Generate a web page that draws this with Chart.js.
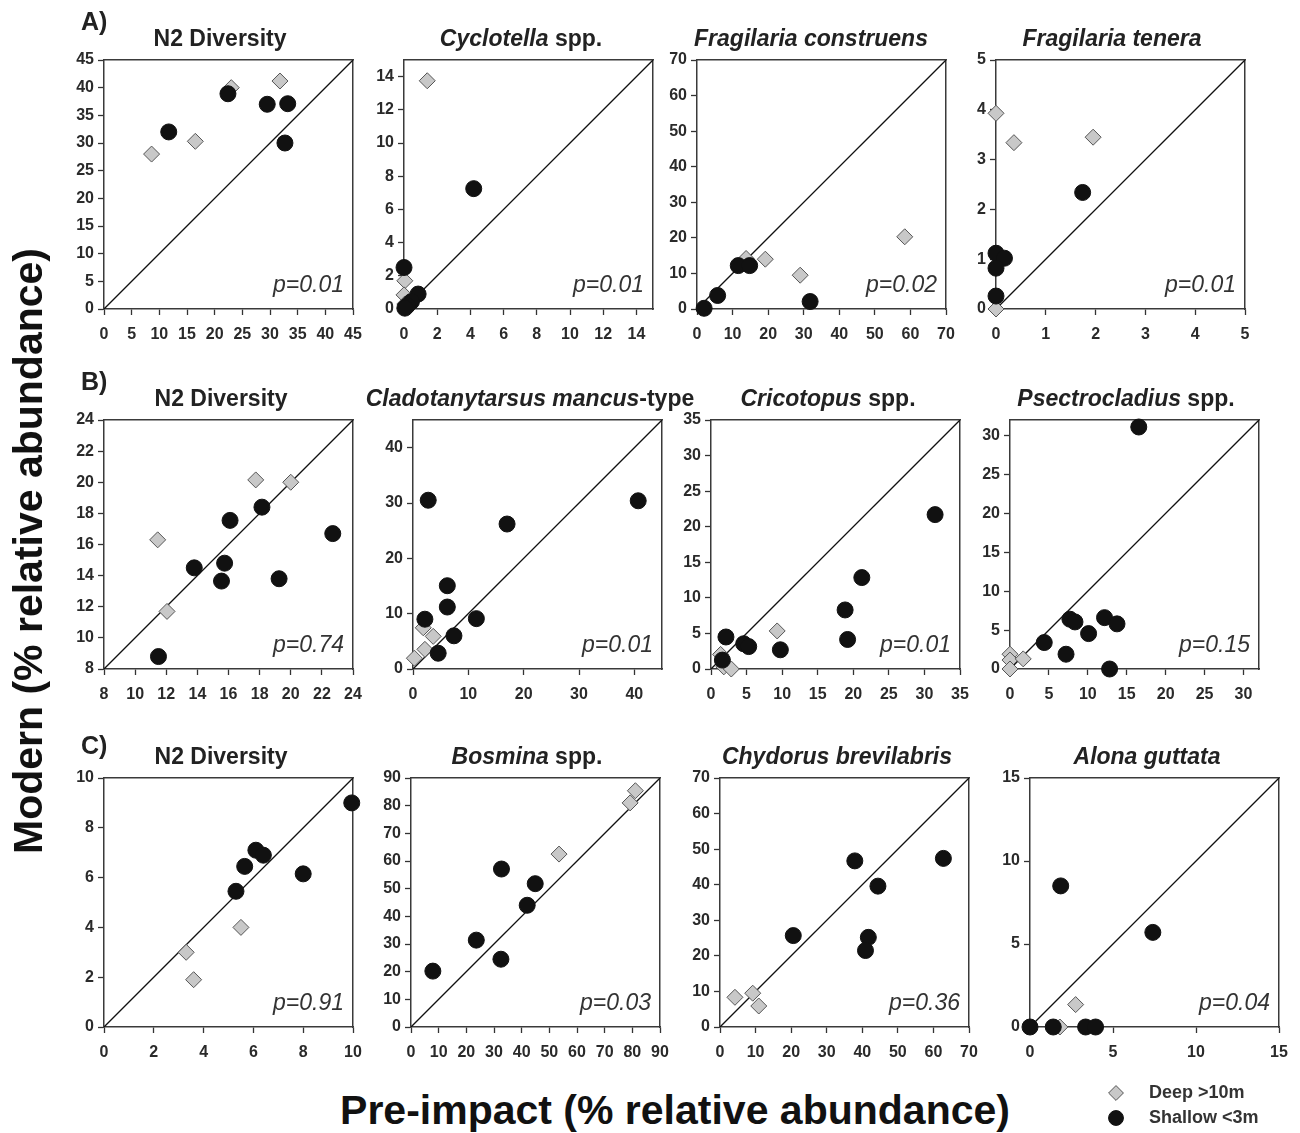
<!DOCTYPE html>
<html>
<head>
<meta charset="utf-8">
<script src="https://cdn.jsdelivr.net/npm/chart.js@4.4.1/dist/chart.umd.min.js"></script>
<style>
  body { margin: 0; background: #fff; width: 1300px; height: 1133px; position: relative; overflow: hidden;
         font-family: "Liberation Sans", Arial, Helvetica, sans-serif; color: #222; }
  canvas { position: absolute; }
  .ttl { position: absolute; font-weight: bold; font-size: 23px; line-height: 24px; white-space: nowrap;
         transform: translateX(-50%); color: #222; }
  .pv { position: absolute; font-style: italic; font-size: 23px; line-height: 22px; white-space: nowrap;
        color: #333; transform: translateX(-100%); }
  .lett { position: absolute; font-weight: bold; font-size: 25px; line-height: 26px; color: #222; }
  .big { position: absolute; font-weight: bold; font-size: 41px; line-height: 44px; white-space: nowrap; color: #111; }
</style>
</head>
<body>
<script>
// ---- panel text ----
const titleItalic = ['', 'Cyclotella', 'Fragilaria construens', 'Fragilaria tenera',
                     '', 'Cladotanytarsus mancus', 'Cricotopus', 'Psectrocladius',
                     '', 'Bosmina', 'Chydorus brevilabris', 'Alona guttata'];
const titlePlain = ['N2 Diversity', ' spp.', '', '',
                    'N2 Diversity', '-type', ' spp.', ' spp.',
                    'N2 Diversity', ' spp.', '', ''];
const pValues = ['p=0.01', 'p=0.01', 'p=0.02', 'p=0.01',
                 'p=0.74', 'p=0.01', 'p=0.01', 'p=0.15',
                 'p=0.91', 'p=0.03', 'p=0.36', 'p=0.04'];
const rowLetters = ['A)', 'B)', 'C)'];

// ---- axes (same range on x and y) ----
const axisMin = [0, 0, 0, 0, 8, 0, 0, 0, 0, 0, 0, 0];
const axisMax = [45, 15, 70, 5, 24, 45, 35, 32, 10, 90, 70, 15];
const tickStep = [5, 2, 10, 1, 2, 10, 5, 5, 2, 10, 10, 5];

// ---- data: [pre-impact, modern] ----
const deepA1 = [[8.6, 28], [16.5, 30.3], [23, 40], [31.8, 41.2]];
const shallowA1 = [[11.7, 32], [22.4, 38.9], [29.5, 37], [33.2, 37.1], [32.7, 30]];
const deepA2 = [[1.4, 13.75], [0.05, 1.7], [0, 0.85], [0.05, 0.3]];
const shallowA2 = [[4.2, 7.25], [0, 2.5], [0.85, 0.9], [0.45, 0.45], [0.2, 0.2], [0.05, 0.05]];
const deepA3 = [[13.8, 14.2], [19.2, 14], [29, 9.5], [58.4, 20.3]];
const shallowA3 = [[2, 0.2], [5.8, 3.8], [11.6, 12.2], [14.8, 12.2], [31.8, 2.1]];
const deepA4 = [[0, 3.93], [0.36, 3.34], [1.95, 3.45], [0, 0]];
const shallowA4 = [[1.74, 2.34], [0, 1.12], [0.17, 1.02], [0, 0.82], [0, 0.26]];

const deepB1 = [[11.45, 16.3], [17.75, 20.15], [20, 20], [12.05, 11.7]];
const shallowB1 = [[11.5, 8.8], [13.8, 14.5], [15.55, 13.65], [15.75, 14.8], [16.1, 17.55], [18.15, 18.4], [19.25, 13.8], [22.7, 16.7]];
const deepB2 = [[1.85, 7.45], [3.65, 5.9], [2.15, 3.55], [0.25, 1.95]];
const shallowB2 = [[2.75, 30.5], [40.7, 30.4], [17, 26.2], [6.2, 15.05], [6.2, 11.2], [2.15, 9], [11.45, 9.1], [7.4, 6], [4.55, 2.85]];
const deepB3 = [[9.3, 5.35], [1.35, 2.05], [1.8, 0.3], [2.85, 0]];
const shallowB3 = [[31.5, 21.7], [21.2, 12.85], [18.85, 8.3], [19.2, 4.15], [2.1, 4.5], [4.6, 3.55], [5.3, 3.15], [9.75, 2.7], [1.6, 1.25]];
const deepB4 = [[0, 1.9], [0, 1.15], [1.7, 1.3], [0, 0]];
const shallowB4 = [[16.55, 31.1], [7.7, 6.4], [8.35, 6.05], [12.15, 6.6], [13.75, 5.8], [10.1, 4.55], [4.4, 3.4], [7.2, 1.9], [12.8, 0]];

const deepC1 = [[5.5, 4], [3.3, 3], [3.6, 1.9]];
const shallowC1 = [[9.95, 9], [6.1, 7.1], [6.4, 6.9], [5.65, 6.45], [5.3, 5.45], [8, 6.15]];
const deepC2 = [[53.5, 62.5], [79.2, 81], [81.1, 85.4]];
const shallowC2 = [[7.9, 20.2], [23.6, 31.4], [32.5, 24.5], [32.7, 57.1], [42, 44], [44.9, 51.8]];
const deepC3 = [[4.2, 8.35], [9.2, 9.5], [10.9, 5.9]];
const shallowC3 = [[37.9, 46.7], [62.8, 47.4], [44.4, 39.6], [20.6, 25.7], [41.7, 25.2], [40.9, 21.5]];
const deepC4 = [[2.75, 1.35], [1.8, 0]];
const shallowC4 = [[1.85, 8.5], [7.4, 5.7], [0, 0], [1.4, 0], [3.35, 0], [3.95, 0]];

const deepSets = [deepA1, deepA2, deepA3, deepA4, deepB1, deepB2, deepB3, deepB4, deepC1, deepC2, deepC3, deepC4];
const shallowSets = [shallowA1, shallowA2, shallowA3, shallowA4, shallowB1, shallowB2, shallowB3, shallowB4, shallowC1, shallowC2, shallowC3, shallowC4];
const legendLabels = ['Deep >10m', 'Shallow <3m'];

// ---- page layout (pixels) ----
const plotLeft = [104, 404, 697, 996, 104, 413, 711, 1010, 104, 411, 720, 1030];
const rowTop = [60, 420, 778];
const titleCenter = [220, 521, 811, 1112, 221, 530, 828, 1126, 221, 527, 837, 1147];
const PW = 249, PH = 249;
const PADL = 60, PADT = 14, PADR = 22, PADB = 44;

const FONT = '"Liberation Sans", Arial, Helvetica, sans-serif';
Chart.defaults.font.family = FONT;

const toPts = arr => arr.map(p => ({x: p[0], y: p[1]}));

function addDiv(cls, html, left, top) {
    const d = document.createElement('div');
    d.className = cls;
    d.innerHTML = html;
    d.style.left = left + 'px';
    d.style.top = top + 'px';
    document.body.appendChild(d);
    return d;
}

function makePanel(i) {
    const left = plotLeft[i];
    const top = rowTop[Math.floor(i / 4)];
    const lo = axisMin[i], hi = axisMax[i];

    const cv = document.createElement('canvas');
    cv.width = PW + PADL + PADR;
    cv.height = PH + PADT + PADB;
    cv.style.left = (left - PADL) + 'px';
    cv.style.top = (top - PADT) + 'px';
    document.body.appendChild(cv);

    const tickFont = {size: 16, weight: 'bold'};
    const mainAxis = (extra) => Object.assign({
        type: 'linear', min: lo, max: hi,
        ticks: {stepSize: tickStep[i], includeBounds: false, autoSkip: false, maxRotation: 0,
                font: tickFont, color: '#2a2a2a'},
        grid: {drawOnChartArea: false, drawTicks: true, tickLength: 6, tickWidth: 1.3, tickColor: '#333'},
        border: {display: true, color: '#3a3a3a', width: 1.5}
    }, extra);
    const frameAxis = (pos) => ({
        type: 'linear', position: pos, min: lo, max: hi, display: true,
        ticks: {display: false}, grid: {display: false},
        border: {display: true, color: '#3a3a3a', width: 1.5},
        afterFit(s) { if (pos === 'top') s.height = 0; else s.width = 0; }
    });

    const xs = mainAxis({position: 'bottom', afterFit(s) { s.height = PADB; }});
    xs.ticks.padding = 10;
    const ys = mainAxis({position: 'left', afterFit(s) { s.width = PADL; }});
    ys.ticks.padding = 4;

    new Chart(cv, {
        type: 'scatter',
        data: {
            datasets: [
                {
                    label: legendLabels[1],
                    data: toPts(shallowSets[i]),
                    pointStyle: 'circle', pointRadius: 8,
                    backgroundColor: '#111', borderColor: '#111', borderWidth: 1,
                    clip: false
                },
                {
                    label: legendLabels[0],
                    data: toPts(deepSets[i]),
                    pointStyle: 'rectRot', pointRadius: 8,
                    backgroundColor: '#c8c8c8', borderColor: '#555', borderWidth: 1,
                    clip: false
                },
                {
                    label: '1:1',
                    type: 'line',
                    data: [{x: lo, y: lo}, {x: hi, y: hi}],
                    borderColor: '#111', borderWidth: 1.3, pointRadius: 0, fill: false
                }
            ]
        },
        options: {
            responsive: false,
            animation: false,
            layout: {padding: {top: PADT, right: PADR, left: 0, bottom: 0}},
            plugins: {legend: {display: false}, tooltip: {enabled: false}},
            scales: {x: xs, y: ys, xTop: frameAxis('top'), yRight: frameAxis('right')}
        }
    });

    // title (italic genus part + plain part)
    let html = '';
    if (titleItalic[i]) html += '<i>' + titleItalic[i] + '</i>';
    html += titlePlain[i];
    addDiv('ttl', html, titleCenter[i], top - 34);

    addDiv('pv', pValues[i], left + PW - 9, top + PH - 36);
}

for (let i = 0; i < 12; i++) makePanel(i);

rowLetters.forEach((t, r) => addDiv('lett', t, 81, rowTop[r] - 52 + (r === 2 ? 6 : 0)));

// axis titles
const yTitle = addDiv('big', 'Modern (% relative abundance)', 0, 0);
yTitle.style.left = '28px';
yTitle.style.top = '551px';
yTitle.style.transform = 'translate(-50%, -50%) rotate(-90deg)';
const xTitle = addDiv('big', 'Pre-impact (% relative abundance)', 675, 1110);
xTitle.style.transform = 'translate(-50%, -50%)';

// legend
const lg = document.createElement('canvas');
lg.width = 200; lg.height = 60;
lg.style.left = '1100px';
lg.style.top = '1077px';
document.body.appendChild(lg);
new Chart(lg, {
    type: 'scatter',
    data: {
        datasets: [
            {label: legendLabels[0], data: [], pointStyle: 'rectRot', backgroundColor: '#c8c8c8', borderColor: '#555', borderWidth: 1},
            {label: legendLabels[1], data: [], pointStyle: 'circle', backgroundColor: '#111', borderColor: '#111', borderWidth: 1}
        ]
    },
    options: {
        responsive: false,
        animation: false,
        scales: {x: {display: false}, y: {display: false}},
        plugins: {
            tooltip: {enabled: false},
            legend: {
                position: 'left', align: 'start', maxWidth: 200,
                labels: {
                    usePointStyle: true, boxHeight: 10.5, padding: 7, color: '#333',
                    font: {size: 18, weight: 'bold'},
                    // a little extra room between marker and text
                    generateLabels: chart => Chart.defaults.plugins.legend.labels.generateLabels(chart)
                        .map(item => Object.assign(item, {text: '   ' + item.text}))
                }
            }
        }
    }
});
</script>
</body>
</html>
